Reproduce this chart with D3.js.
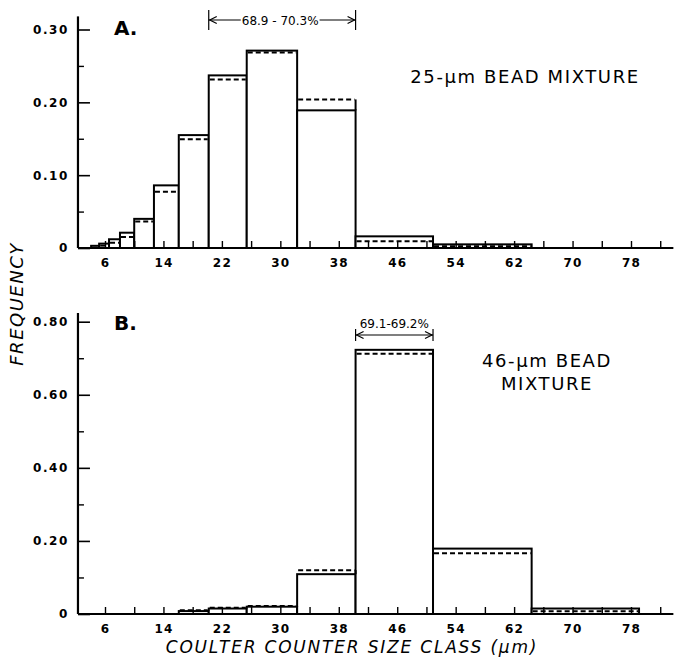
<!DOCTYPE html>
<html>
<head>
<meta charset="utf-8">
<title>Coulter counter size class</title>
<script src="https://d3js.org/d3.v7.min.js"></script>
<style>
  body { margin: 0; background: #fff; }
  svg text { font-family: "DejaVu Sans", sans-serif; fill: #000; }
</style>
</head>
<body>
<svg width="677" height="657"></svg>
<script>
// channel edges of the Coulter counter size classes (um)
const sizeEdges = [4.1, 5.2, 6.55, 8.05, 10.0, 12.7, 16.1, 20.2, 25.4, 32.3, 40.3, 50.9, 64.4, 79.1]

// panel A, 25-um bead mixture
const freqA = [0.003, 0.006, 0.012, 0.021, 0.040, 0.086, 0.155, 0.237, 0.271, 0.189, 0.016, 0.005, 0]
const freqADashed = [0.003, 0.006, 0.010, 0.018, 0.039, 0.080, 0.152, 0.234, 0.271, 0.204, 0.012, 0.005, 0]
// panel B, 46-um bead mixture
const freqB = [0, 0, 0, 0, 0, 0, 0.008, 0.015, 0.020, 0.109, 0.723, 0.179, 0.015]
const freqBDashed = [0, 0, 0, 0, 0, 0, 0.010, 0.017, 0.022, 0.120, 0.718, 0.172, 0.013]

const xLabelTicks = [6, 14, 22, 30, 38, 46, 54, 62, 70, 78]
const xMinorTicks = [10, 18, 26, 34, 42, 50, 58, 66, 74, 82]
const yTicksA = [0, 0.10, 0.20, 0.30]
const yMinorA = [0.05, 0.15, 0.25]
const yTicksB = [0, 0.20, 0.40, 0.60, 0.80]
const yMinorB = [0.10, 0.30, 0.50, 0.70]

const svg = d3.select("svg")

const x = d3.scaleLinear().domain([6, 78]).range([105, 631])

const panels = [
    { solid: freqA, dashed: freqADashed, yMax: 0.30, yTop: 0.318, base: 248, top: 29.5,
      ticks: yTicksA, minor: yMinorA, letter: "A.", letterY: 35,
      spanFrom: 7, spanTo: 10, spanText: "68.9 - 70.3%", spanY: 20, textAbove: false,
      label: ["25-\u03bcm BEAD MIXTURE"], labelX: 525, labelY: 83 },
    { solid: freqB, dashed: freqBDashed, yMax: 0.80, yTop: 0.824, base: 614, top: 321.7,
      ticks: yTicksB, minor: yMinorB, letter: "B.", letterY: 330,
      spanFrom: 10, spanTo: 11, spanText: "69.1-69.2%", spanY: 335, textAbove: true,
      label: ["46-\u03bcm BEAD", "MIXTURE"], labelX: 547, labelY: 367 }
]

const arrowHead = (g, xTip, y, dir) => {
    g.append("path")
        .attr("d", `M${xTip - dir * 7},${y - 3.5} L${xTip},${y} L${xTip - dir * 7},${y + 3.5}`)
        .attr("fill", "none").attr("stroke", "#000").attr("stroke-width", 1.2)
}

panels.forEach(p => {
    const y = d3.scaleLinear().domain([0, p.yMax]).range([p.base, p.top])
    const g = svg.append("g")

    // bars
    const bars = p.solid.map((v, i) => ({ x0: sizeEdges[i], x1: sizeEdges[i + 1], v: v, d: p.dashed[i] }))
        .filter(b => b.v > 0 || b.d > 0)

    g.selectAll("rect.bar")
        .data(bars)
        .enter()
        .append("rect")
        .attr("class", "bar")
        .attr("x", b => x(b.x0))
        .attr("y", b => y(b.v))
        .attr("width", b => x(b.x1) - x(b.x0))
        .attr("height", b => p.base - y(b.v))
        .attr("fill", "#fff")
        .attr("stroke", "#000")
        .attr("stroke-width", 2)

    // dashed series as horizontal tops
    g.selectAll("line.dash")
        .data(bars)
        .enter()
        .append("line")
        .attr("x1", b => x(b.x0) + 1)
        .attr("x2", b => x(b.x1) - 1)
        .attr("y1", b => y(b.d) + (b.d <= b.v ? 2 : 0))
        .attr("y2", b => y(b.d) + (b.d <= b.v ? 2 : 0))
        .attr("stroke", "#000")
        .attr("stroke-width", 2)
        .attr("stroke-dasharray", "5,3")

    // where dashed rises above the solid, extend the wall
    g.selectAll("line.wall")
        .data(bars.filter(b => b.d > b.v))
        .enter()
        .append("line")
        .attr("x1", b => x(b.x1)).attr("x2", b => x(b.x1))
        .attr("y1", b => y(b.v)).attr("y2", b => y(b.d))
        .attr("stroke", "#000").attr("stroke-width", 2)

    // y axis
    const yAxis = d3.axisLeft(y).tickValues(p.ticks).tickSize(-12).tickPadding(9)
        .tickFormat(d => d === 0 ? "0" : d3.format(".2f")(d))
    const ya = g.append("g").attr("transform", `translate(${x(2.3)},0)`).call(yAxis)
    ya.select(".domain").remove()
    ya.selectAll("line").attr("stroke-width", 1.6)
    ya.selectAll("text").attr("font-size", 12).attr("font-weight", "bold").attr("letter-spacing", 1.6)
    const yMinorAxis = d3.axisLeft(y).tickValues(p.minor).tickSize(-6).tickFormat("")
    const ym = g.append("g").attr("transform", `translate(${x(2.3)},0)`).call(yMinorAxis)
    ym.select(".domain").remove()
    ym.selectAll("line").attr("stroke-width", 1.4)

    g.append("line")
        .attr("x1", x(2.3)).attr("x2", x(2.3))
        .attr("y1", y(0)).attr("y2", y(p.yTop))
        .attr("stroke", "#000").attr("stroke-width", 2.2)

    // x axis
    const xAxis = d3.axisBottom(x).tickValues(xLabelTicks).tickSize(-7).tickPadding(10)
    const xa = g.append("g").attr("transform", `translate(0,${p.base})`).call(xAxis)
    xa.select(".domain").remove()
    xa.selectAll("line").attr("stroke-width", 1.4)
    xa.selectAll("text").attr("font-size", 12).attr("font-weight", "bold").attr("letter-spacing", 1.2)
    const xMinorAxis = d3.axisBottom(x).tickValues(xMinorTicks).tickSize(-7).tickFormat("")
    const xm = g.append("g").attr("transform", `translate(0,${p.base})`).call(xMinorAxis)
    xm.select(".domain").remove()
    xm.selectAll("line").attr("stroke-width", 1.4)

    g.append("line")
        .attr("x1", x(2.3)).attr("x2", x(83.8))
        .attr("y1", p.base).attr("y2", p.base)
        .attr("stroke", "#000").attr("stroke-width", 2.2)

    // panel letter
    g.append("text")
        .attr("x", 114).attr("y", p.letterY)
        .attr("font-size", 20).attr("font-weight", "bold")
        .text(p.letter)

    // mixture label
    p.label.forEach((t, i) => {
        g.append("text")
            .attr("x", p.labelX).attr("y", p.labelY + i * 23)
            .attr("text-anchor", "middle")
            .attr("font-size", 18)
            .attr("letter-spacing", 1.6)
            .text(t)
    })

    // span annotation
    const sx0 = x(sizeEdges[p.spanFrom]), sx1 = x(sizeEdges[p.spanTo])
    const sy = p.spanY
    const ann = g.append("g")
    ann.append("line").attr("x1", sx0).attr("x2", sx1).attr("y1", sy).attr("y2", sy)
        .attr("stroke", "#000").attr("stroke-width", 1.2)
    ;[sx0, sx1].forEach(v => {
        ann.append("line").attr("x1", v).attr("x2", v)
            .attr("y1", sy - (p.textAbove ? 6 : 10)).attr("y2", sy + (p.textAbove ? 6 : 10))
            .attr("stroke", "#000").attr("stroke-width", 1.2)
    })
    arrowHead(ann, sx0 + 1, sy, -1)
    arrowHead(ann, sx1 - 1, sy, 1)
    const cx = (sx0 + sx1) / 2
    if (p.textAbove) {
        ann.append("text").attr("x", cx).attr("y", sy - 7)
            .attr("text-anchor", "middle").attr("font-size", 12)
            .text(p.spanText)
    } else {
        const t = ann.append("text").attr("x", cx - 2).attr("y", sy + 4.5)
            .attr("text-anchor", "middle").attr("font-size", 12)
            .text(p.spanText)
        const bb = t.node().getBBox()
        ann.insert("rect", "text")
            .attr("x", bb.x - 1).attr("y", bb.y).attr("width", bb.width + 2).attr("height", bb.height)
            .attr("fill", "#fff")
    }
})

// shared axis titles
svg.append("text")
    .attr("transform", "translate(23,304) rotate(-90)")
    .attr("text-anchor", "middle")
    .attr("font-size", 18).attr("font-style", "italic")
    .attr("letter-spacing", 1.5)
    .text("FREQUENCY")

svg.append("text")
    .attr("x", 352).attr("y", 653)
    .attr("text-anchor", "middle")
    .attr("font-size", 17).attr("font-style", "italic")
    .attr("letter-spacing", 1.8)
    .text("COULTER COUNTER SIZE CLASS (\u03bcm)")
</script>
</body>
</html>
